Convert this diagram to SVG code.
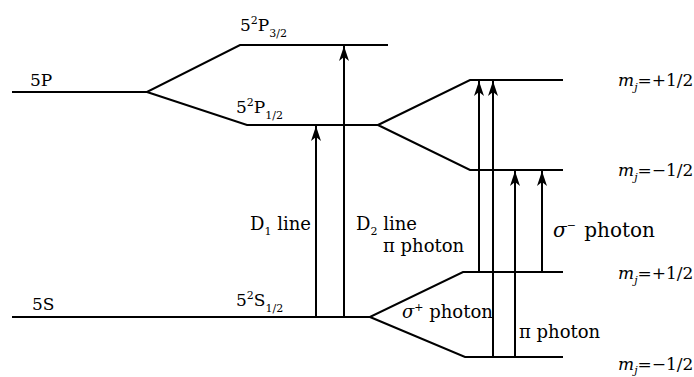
<svg xmlns="http://www.w3.org/2000/svg" width="694" height="377" viewBox="0 0 694 377">
<style>
.lv{fill:none;stroke:#000;stroke-width:2}
.ar{fill:none;stroke:#000;stroke-width:2;marker-end:url(#ah)}
.t{font-family:'DejaVu Serif','Liberation Serif',serif;font-size:17px;fill:#000}
.l{font-size:18px}
.xl{font-size:20px}
.sub{font-size:11px}
.it{font-style:italic}
</style>
<defs>
<marker id="ah" markerUnits="userSpaceOnUse" markerWidth="17" markerHeight="12" viewBox="-16 -6 17 12" refX="0" refY="0" orient="auto">
<path d="M0,0 L-15,-5 L-11,0 L-15,5 Z" fill="#000"/>
</marker>
</defs>
<rect width="694" height="377" fill="#fff"/>
<g id="level-5P">
<path class="lv" d="M12,92 H147 L240,45 H388 M147,92 L247,125 H378"/>
<text class="t" x="30" y="86">5P</text>
</g>
<g id="level-P32">
<text class="t" x="240" y="31">5<tspan class="sub" dy="-7">2</tspan><tspan dy="7">P</tspan><tspan class="sub" dy="6">3/2</tspan></text>
</g>
<g id="level-P12">
<text class="t" x="236" y="113">5<tspan class="sub" dy="-7">2</tspan><tspan dy="7">P</tspan><tspan class="sub" dy="6">1/2</tspan></text>
</g>
<g id="split-P12">
<path class="lv" d="M378,125 L470,80 H563 M378,125 L470,170 H563"/>
</g>
<g id="level-5S">
<path class="lv" d="M12,317 H370 L463,272 H563 M370,317 L465,357 H563"/>
<text class="t" x="32" y="310">5S</text>
<text class="t" x="236" y="306">5<tspan class="sub" dy="-7">2</tspan><tspan dy="7">S</tspan><tspan class="sub" dy="6">1/2</tspan></text>
</g>
<g id="mj-labels">
<text class="t" x="618" y="86"><tspan class="it">m</tspan><tspan class="sub it" dy="5">j</tspan><tspan dy="-5">=+1/2</tspan></text>
<text class="t" x="618" y="176"><tspan class="it">m</tspan><tspan class="sub it" dy="5">j</tspan><tspan dy="-5">=−1/2</tspan></text>
<text class="t" x="618" y="279"><tspan class="it">m</tspan><tspan class="sub it" dy="5">j</tspan><tspan dy="-5">=+1/2</tspan></text>
<text class="t" x="618" y="370"><tspan class="it">m</tspan><tspan class="sub it" dy="4">j</tspan><tspan dy="-4">=−1/2</tspan></text>
</g>
<g id="connectors">
<line class="ar" x1="316" y1="317" x2="316" y2="126"/>
<line class="ar" x1="344" y1="317" x2="344" y2="46"/>
<line class="ar" x1="479" y1="272" x2="479" y2="81"/>
<line class="ar" x1="493" y1="357" x2="493" y2="81"/>
<line class="ar" x1="515" y1="357" x2="515" y2="171"/>
<line class="ar" x1="542" y1="272" x2="542" y2="171"/>
</g>
<g id="labels">
<text class="t l" x="250" y="230">D<tspan class="sub" dy="5">1</tspan><tspan dy="-5"> line</tspan></text>
<text class="t l" x="356" y="230">D<tspan class="sub" dy="5">2</tspan><tspan dy="-5"> line</tspan></text>
<text class="t l" x="383" y="252">π photon</text>
<text class="t l" x="402" y="318"><tspan class="it">σ</tspan><tspan class="sub" dy="-7">+</tspan><tspan dy="7"> photon</tspan></text>
<text class="t xl" x="553" y="237"><tspan class="it">σ</tspan><tspan class="sub" dy="-8">−</tspan><tspan dy="8" dx="2"> photon</tspan></text>
<text class="t l" x="519" y="338">π photon</text>
</g>
</svg>
